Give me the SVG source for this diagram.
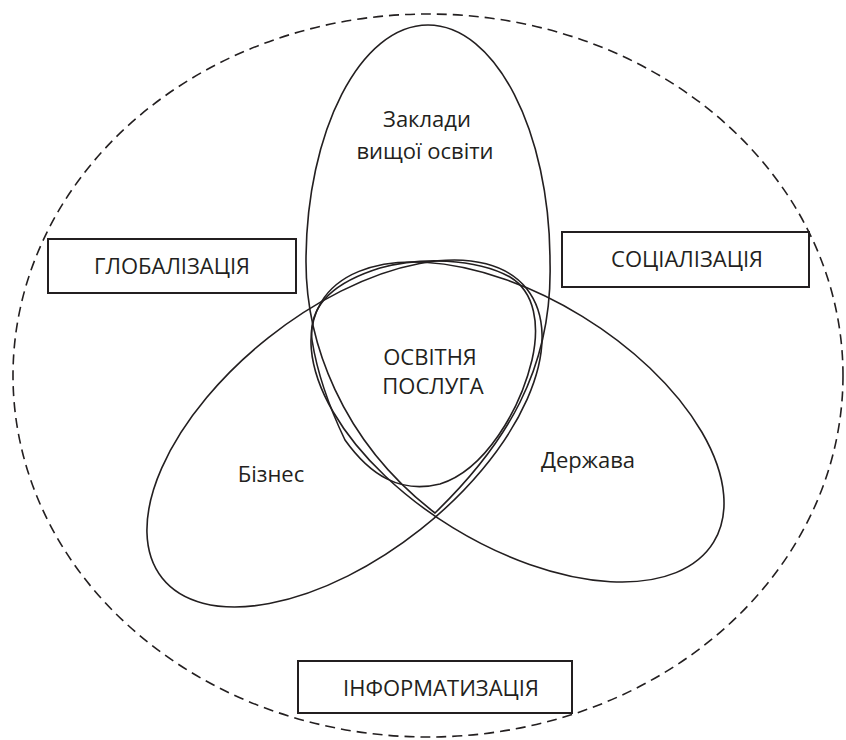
<svg xmlns="http://www.w3.org/2000/svg" width="846" height="740" viewBox="0 0 846 740">
<style>
.ln{fill:none;stroke:#231f20;stroke-width:1.6}
.bx{fill:#fff;stroke:#231f20;stroke-width:2}
.t{font-family:"Open Sans","Noto Sans","DejaVu Sans",sans-serif;font-size:22px;fill:#231f20;text-anchor:middle}
</style>
<rect width="846" height="740" fill="#fff"/>
<g id="environment">
<ellipse class="ln" cx="428" cy="375.5" rx="415" ry="361.5" stroke-dasharray="10 6"/>
</g>
<g id="connectors"></g>
<g id="zvo">
<path class="ln" d="M428,25 C495.4,25 550,131.1 550,262 C553,370 505,445 435,513 C340,440 306,340 306,262 C306,131.1 360.6,25 428,25 Z"/>
<text class="t" x="427" y="127">Заклади</text>
<text class="t" x="425" y="159">вищої освіти</text>
</g>
<g id="biznes">
<ellipse class="ln" cx="0" cy="0" rx="232.7" ry="122.4" transform="translate(344.5 433.5) rotate(-38.4)"/>
<text class="t" x="271" y="482">Бізнес</text>
</g>
<g id="derzhava">
<ellipse class="ln" cx="0" cy="0" rx="230" ry="123.9" transform="translate(517.5 422) rotate(31.5)"/>
<text class="t" x="588" y="468">Держава</text>
</g>
<g id="posluga">
<path class="ln" d="M312,340 C308,305 335,282 380,268 C420,257 475,258 510,277 C535,292 540,325 532,360 C520,410 485,470 440,484 C400,494 370,475 345,440 C333,415 318,378 312,340 Z"/>
<text class="t" x="430" y="365">ОСВІТНЯ</text>
<text class="t" x="433" y="394">ПОСЛУГА</text>
</g>
<g id="globalizatsiia">
<rect class="bx" x="48" y="239" width="248" height="54"/>
<text class="t" x="172" y="274">ГЛОБАЛІЗАЦІЯ</text>
</g>
<g id="sotsializatsiia">
<rect class="bx" x="562" y="232" width="247" height="55"/>
<text class="t" x="687" y="267">СОЦІАЛІЗАЦІЯ</text>
</g>
<g id="informatyzatsiia">
<rect class="bx" x="298" y="661" width="274" height="52"/>
<text class="t" x="441" y="696">ІНФОРМАТИЗАЦІЯ</text>
</g>
</svg>
